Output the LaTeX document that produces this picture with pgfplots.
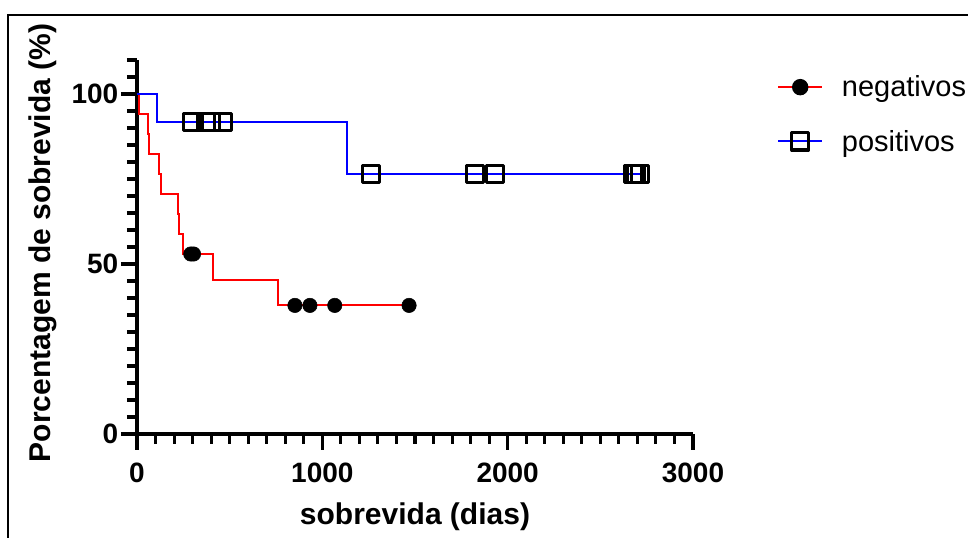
\documentclass[border=0pt]{standalone}
\usepackage{fontspec}
\setmainfont{Liberation Sans}
\usepackage{pgfplots}
\pgfplotsset{compat=1.18}

\begin{document}
\begin{tikzpicture}
% page = 968 x 538 px, 1 px = 0.75 pt
\path[use as bounding box] (0,0) rectangle (726pt,403.5pt);
\draw[line width=1.5pt] (6pt,-5pt) -- (6pt,392.6pt) -- (740pt,392.6pt);

\begin{axis}[
    scale only axis,
    width=417pt, height=280.5pt,
    at={(102.75pt,78pt)}, anchor=south west,
    xmin=0, xmax=3000, ymin=0, ymax=110,
    axis x line=bottom, axis y line=left,
    axis line style={-, line width=2.3pt},
    xtick={0,1000,2000,3000},
    ytick={0,50,100},
    minor xtick={100,200,...,900,1100,1200,...,1900,2100,2200,...,2900},
    minor ytick={5,10,...,45,55,60,...,95,105,110},
    tick align=outside,
    major tick length=12pt,
    minor tick length=7.5pt,
    every tick/.style={line width=2.3pt, black},
    scaled ticks=false,
    /pgf/number format/assume math mode=true,
    /pgf/number format/set thousands separator={},
    ticklabel style={font=\fontsize{21}{25}\selectfont\bfseries},
    xticklabel style={yshift=-6pt},
    yticklabel style={xshift=1.5pt},
    xlabel={sobrevida (dias)},
    ylabel={Porcentagem de sobrevida (\%)},
    label style={font=\fontsize{22.5}{27}\selectfont\bfseries},
    xlabel style={at={(axis description cs:0.5,-0.222)}, anchor=center},
    ylabel style={at={(axis description cs:-0.169,0.511)}, anchor=center, rotate=0},
    clip=false,
    legend image code/.code={
        \draw[mark repeat=2, mark phase=2, #1] plot coordinates {(0pt,0pt) (16.5pt,0pt) (33pt,0pt)};
    },
    legend style={draw=none, fill=none, inner sep=0pt,
        at={(axis description cs:1.151,0.966)}, anchor=north west,
        font=\fontsize{21.75}{26}\selectfont,
        row sep=19.5pt, column sep=12pt},
    legend cell align=left,
]
% negativos: step curve
\addplot[red, line width=1.5pt, const plot, forget plot] coordinates {
(0,100) (12,94.12) (57,88.24) (66,82.35) (120,76.47) (129,70.59)
(219,64.71) (224,58.82) (249,52.94) (408,45.38) (762,37.82) (1468,37.82)
};
% positivos: step curve
\addplot[blue, line width=1.5pt, const plot, forget plot] coordinates {
(0,100) (108,91.67) (1134,76.39) (2712,76.39)
};
% censored, negativos
\addplot[only marks, mark=*, mark size=5.4pt, black, fill=black, forget plot] coordinates {
(290,52.94) (305,52.94) (852,37.82) (933,37.82) (1067,37.82) (1468,37.82)
};
% censored, positivos
\addplot[only marks, mark=square, mark size=6.4pt, black, line width=2.3pt, line join=round, forget plot] coordinates {
(295,91.67) (370,91.67) (400,91.67) (465,91.67)
(1262,76.39) (1822,76.39) (1930,76.39) (2675,76.39) (2690,76.39) (2712,76.39)
};
\addlegendimage{red, line width=1.5pt, mark=*, mark size=5.4pt, mark options={black, fill=black}}
\addlegendentry{negativos}
\addlegendimage{blue, line width=1.5pt, mark=square, mark size=6.4pt, mark options={black, line width=2.3pt, line join=round}}
\addlegendentry{positivos}
\end{axis}
\end{tikzpicture}
\end{document}
